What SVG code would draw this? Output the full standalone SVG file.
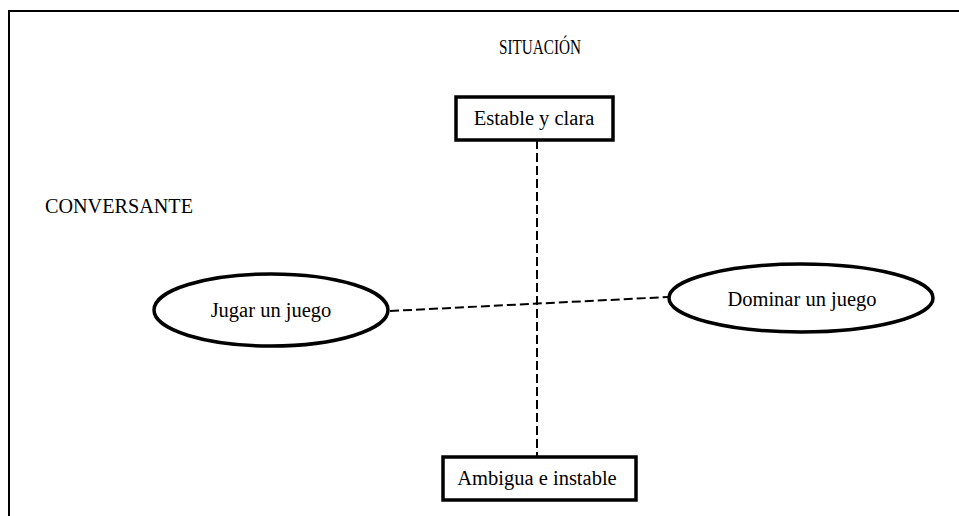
<svg xmlns="http://www.w3.org/2000/svg" width="959" height="516" viewBox="0 0 959 516">
<style>
text{font-family:"Liberation Serif","Times New Roman",serif;fill:#000}
.lbl{font-size:20.5px}
.head{font-size:20px}
.box{fill:#fff;stroke:#000;stroke-width:3.5}
.ell{fill:#fff;stroke:#000;stroke-width:3.5}
.dash{stroke:#000;stroke-width:2;stroke-dasharray:9 4;fill:none}
.frame{stroke:#000;stroke-width:2;fill:none}
</style>
<rect width="959" height="516" fill="#fff"/>
<path class="frame" d="M9 516 V11 H959"/>
<text class="head" x="540" y="54" text-anchor="middle" textLength="82" lengthAdjust="spacingAndGlyphs">SITUACIÓN</text>
<text class="head" x="45" y="213" textLength="148" lengthAdjust="spacingAndGlyphs">CONVERSANTE</text>
<g id="connectors">
<line class="dash" x1="537" y1="140" x2="537" y2="457"/>
<line class="dash" x1="390" y1="311" x2="668" y2="297"/>
</g>
<g id="estable">
<rect class="box" x="456" y="97" width="157" height="43"/>
<text class="lbl" x="534" y="125" text-anchor="middle">Estable y clara</text>
</g>
<g id="ambigua">
<rect class="box" x="443" y="457" width="193" height="43"/>
<text class="lbl" x="537" y="485" text-anchor="middle">Ambigua e instable</text>
</g>
<g id="jugar">
<ellipse class="ell" cx="271" cy="310" rx="117" ry="36"/>
<text class="lbl" x="271" y="317" text-anchor="middle">Jugar un juego</text>
</g>
<g id="dominar">
<ellipse class="ell" cx="801" cy="298" rx="132" ry="34"/>
<text class="lbl" x="802" y="306" text-anchor="middle">Dominar un juego</text>
</g>
</svg>
